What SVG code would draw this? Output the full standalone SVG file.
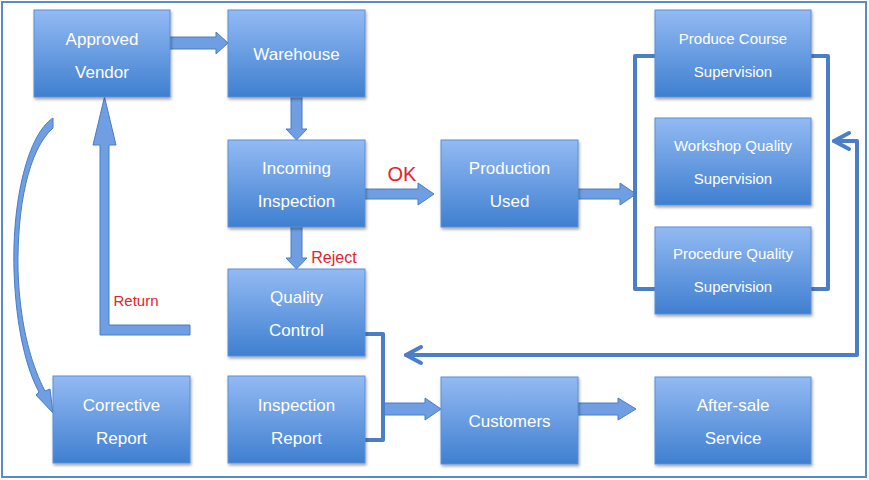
<svg xmlns="http://www.w3.org/2000/svg" width="869" height="480" viewBox="0 0 869 480">
<defs>
<linearGradient id="bx" x1="0" y1="0" x2="0" y2="1">
<stop offset="0" stop-color="#93baf3"/>
<stop offset="1" stop-color="#3f7fd0"/>
</linearGradient>
<linearGradient id="ag" x1="0" y1="0" x2="0" y2="1">
<stop offset="0" stop-color="#8db6f0"/>
<stop offset="1" stop-color="#4f86d2"/>
</linearGradient>
<filter id="sh" x="-10%" y="-10%" width="130%" height="130%">
<feDropShadow dx="1" dy="2" stdDeviation="1.5" flood-color="#000" flood-opacity="0.35"/>
</filter>
<style>
.box{fill:url(#bx);stroke:#5b8fd6;stroke-width:1;filter:url(#sh)}
.t{font-family:"Liberation Sans",Arial,sans-serif;font-size:17px;fill:#fff;text-anchor:middle}
.ts{font-family:"Liberation Sans",Arial,sans-serif;font-size:15px;fill:#fff;text-anchor:middle}
.red{font-family:"Liberation Sans",Arial,sans-serif;fill:#e3232b}
.ba{fill:#6f9fe2;stroke:#4a7cc4;stroke-width:1;stroke-linejoin:round}
.ln{fill:none;stroke:#4a7fc8;stroke-width:4;stroke-linejoin:round;stroke-linecap:round}
</style>
</defs>
<rect x="0" y="0" width="869" height="480" fill="#fff"/>
<rect x="2" y="2" width="864" height="475" fill="none" stroke="#5b8ac8" stroke-width="2"/>

<g id="connectors">
<polygon class="ba" points="170,37 216,37 216,32 228,43 216,54 216,49 170,49"/>
<polygon class="ba" points="291,97 302,97 302,129 307,129 296.5,140 286,129 291,129"/>
<polygon class="ba" points="365,189 418,189 418,183 434,194 418,205 418,199 365,199"/>
<polygon class="ba" points="578,189 620,189 620,183 636,194 620,205 620,199 578,199"/>
<polygon class="ba" points="291,227 302,227 302,258 307,258 296.5,269 286,258 291,258"/>
<polygon class="ba" points="190,325 109,325 109,145 116,145 104.5,97 93,145 100,145 100,335 190,335"/>
<polygon class="ba" points="383,403 425,403 425,398 441,409 425,420 425,415 383,415"/>
<polygon class="ba" points="578,403 618,403 618,398 636,409 618,420 618,415 578,415"/>
<path class="ba" d="M53 118 C28 134 12 200 14 270 C16 330 27 370 39 392 L36 395 L53 413 L50 389 L45 391 C33 368 20 330 18 270 C17 208 28 150 53 128 Z"/>
<path class="ln" d="M365 334 H383 V440 H365"/>
<path class="ln" d="M655 56 H635 V289 H655"/>
<path class="ln" d="M811 56 H828 V289 H811"/>
<path class="ln" d="M834 141 H857 V355 H406"/>
<path class="ln" d="M849 133 L834 141 L849 149"/>
<path class="ln" d="M421 347 L406 355 L421 363"/>
<text class="red" x="402" y="181" font-size="20" text-anchor="middle">OK</text>
<text class="red" x="334" y="263" font-size="16" text-anchor="middle">Reject</text>
<text class="red" x="136" y="306" font-size="15" text-anchor="middle">Return</text>
</g>

<g id="approved-vendor"><rect class="box" x="34" y="10" width="136" height="87"/><text class="t" x="102" y="45">Approved</text><text class="t" x="102" y="78">Vendor</text></g>
<g id="warehouse"><rect class="box" x="228" y="10" width="137" height="87"/><text class="t" x="296.5" y="60">Warehouse</text></g>
<g id="incoming-inspection"><rect class="box" x="228" y="140" width="137" height="87"/><text class="t" x="296.5" y="174">Incoming</text><text class="t" x="296.5" y="207">Inspection</text></g>
<g id="quality-control"><rect class="box" x="228" y="269" width="137" height="87"/><text class="t" x="296.5" y="303">Quality</text><text class="t" x="296.5" y="336">Control</text></g>
<g id="corrective-report"><rect class="box" x="53" y="376" width="137" height="87"/><text class="t" x="121.5" y="411">Corrective</text><text class="t" x="121.5" y="444">Report</text></g>
<g id="inspection-report"><rect class="box" x="228" y="376" width="137" height="87"/><text class="t" x="296.5" y="411">Inspection</text><text class="t" x="296.5" y="444">Report</text></g>
<g id="production-used"><rect class="box" x="441" y="140" width="137" height="87"/><text class="t" x="509.5" y="174">Production</text><text class="t" x="509.5" y="207">Used</text></g>
<g id="customers"><rect class="box" x="441" y="377" width="137" height="87"/><text class="t" x="509.5" y="427">Customers</text></g>
<g id="produce-course"><rect class="box" x="655" y="10" width="156" height="87"/><text class="ts" x="733" y="44">Produce Course</text><text class="ts" x="733" y="77">Supervision</text></g>
<g id="workshop-quality"><rect class="box" x="655" y="118" width="156" height="87"/><text class="ts" x="733" y="151">Workshop Quality</text><text class="ts" x="733" y="184">Supervision</text></g>
<g id="procedure-quality"><rect class="box" x="655" y="227" width="156" height="87"/><text class="ts" x="733" y="259">Procedure Quality</text><text class="ts" x="733" y="292">Supervision</text></g>
<g id="after-sale"><rect class="box" x="655" y="377" width="156" height="87"/><text class="t" x="733" y="411">After-sale</text><text class="t" x="733" y="444">Service</text></g>
</svg>
